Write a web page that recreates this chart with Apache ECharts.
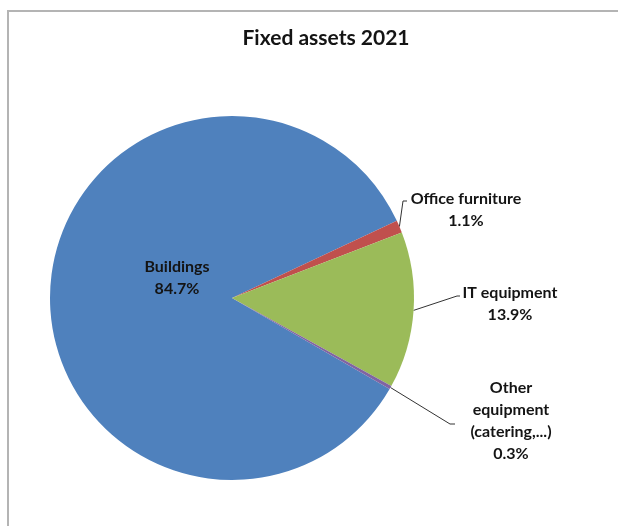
<!DOCTYPE html>
<html>
<head>
<meta charset="utf-8">
<script src="https://cdn.jsdelivr.net/npm/echarts@6/dist/echarts.min.js"></script>
<style>
  html, body { margin: 0; padding: 0; background: #fff; }
  #main { width: 618px; height: 526px; }
</style>
</head>
<body>
<div id="main"></div>
<script>
// 数据
const categories = ['Buildings', 'Office furniture', 'IT equipment', 'Other\nequipment\n(catering,...)']
const values = [84.7, 1.1, 13.9, 0.3]
const colors = ['#4f81bd', '#c0504d', '#9bbb59', '#8064a2']

// 标签位置（文字块中心 + 引导线拐点）
const labelSpots = [
  { x: 177, y: 278 },
  { x: 466, y: 210, bend: [403, 201], end: [407, 201] },
  { x: 510, y: 304, bend: [457, 296], end: [460, 296] },
  { x: 511, y: 421, bend: [450, 424], end: [455, 424] },
]

const chart = echarts.init(document.getElementById('main'))

const option = {
  backgroundColor: '#fff',
  title: {
    text: 'Fixed assets 2021',
    left: 321,
    top: 23,
    textAlign: 'center',
    textStyle: {
      fontFamily: 'Lato',
      fontWeight: 'bold',
      fontSize: 21,
      color: '#141414',
    },
  },
  // 外框
  graphic: [
    {
      type: 'polyline',
      shape: { points: [[8, 526], [8, 11], [618, 11]] },
      style: { stroke: '#b4b4b4', lineWidth: 2, fill: null },
      silent: true,
    },
  ],
  series: [
    {
      type: 'pie',
      center: [232, 298],
      radius: 182,
      startAngle: 330,
      clockwise: true,
      avoidLabelOverlap: false,
      animation: false,
      data: categories.map((name, i) => ({
        name: name,
        value: values[i],
        itemStyle: { color: colors[i] },
        label: i === 0 ? { position: 'inside' } : { position: 'outside' },
        labelLine: { show: i !== 0 },
      })),
      label: {
        formatter: (p) => p.name + '\n' + p.value.toFixed(1) + '%',
        fontFamily: 'Lato',
        fontWeight: 'bold',
        fontSize: 16,
        lineHeight: 22,
        color: '#141414',
        align: 'center',
      },
      labelLine: {
        lineStyle: { color: '#333', width: 1 },
      },
      labelLayout: function (p) {
        const s = labelSpots[p.dataIndex]
        const res = { x: s.x, y: s.y, align: 'center', verticalAlign: 'middle' }
        if (s.bend && p.labelLinePoints) {
          res.labelLinePoints = [p.labelLinePoints[0], s.bend, s.end]
        }
        return res
      },
    },
  ],
}
chart.setOption(option)
</script>
</body>
</html>
